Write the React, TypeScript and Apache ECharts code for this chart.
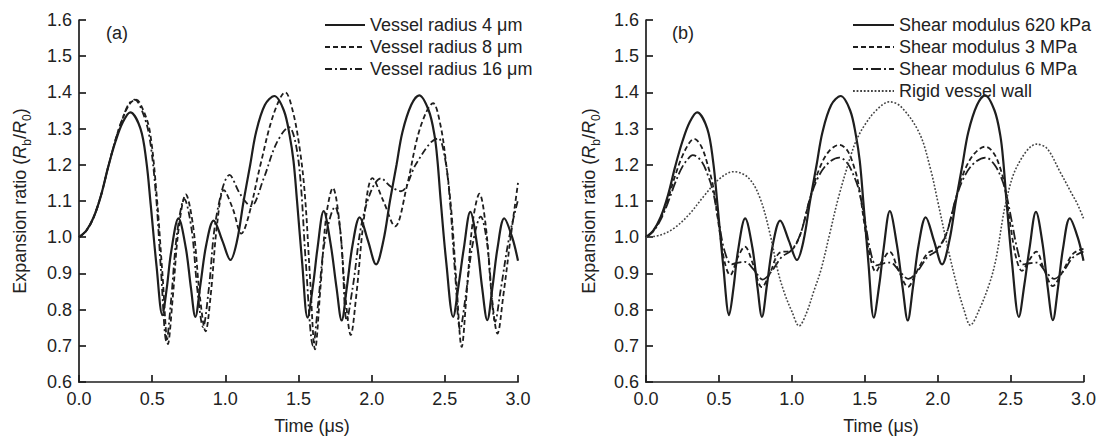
import { useEffect, useRef } from "react";
import * as echarts from "echarts";

const FONT = '"Liberation Sans", Arial, Helvetica, sans-serif';
const INK = "#1e1e1e";

// time (µs) / expansion ratio pairs
const baseCase: [number, number][] = [
  [0, 1.0], [0.05, 1.018], [0.1, 1.055], [0.15, 1.115], [0.2, 1.195], [0.25, 1.265], [0.3, 1.318],
  [0.35, 1.345], [0.42, 1.3], [0.46, 1.21], [0.49, 1.09], [0.53, 0.92], [0.57, 0.785], [0.6, 0.86],
  [0.63, 0.96], [0.68, 1.052], [0.73, 0.97], [0.765, 0.86], [0.795, 0.78], [0.83, 0.87], [0.87, 0.98],
  [0.92, 1.046], [0.98, 0.99], [1.035, 0.937], [1.08, 0.99], [1.125, 1.1], [1.17, 1.2], [1.21, 1.29],
  [1.27, 1.365], [1.335, 1.39], [1.4, 1.35], [1.44, 1.28], [1.466, 1.21], [1.49, 1.1], [1.525, 0.93],
  [1.562, 0.778], [1.6, 0.87], [1.63, 0.97], [1.672, 1.072], [1.72, 0.98], [1.76, 0.86], [1.795, 0.77],
  [1.83, 0.86], [1.87, 0.98], [1.918, 1.055], [1.975, 0.99], [2.03, 0.925], [2.08, 0.99], [2.125, 1.1],
  [2.17, 1.2], [2.21, 1.29], [2.27, 1.365], [2.325, 1.392], [2.39, 1.35], [2.43, 1.28], [2.45, 1.21],
  [2.472, 1.1], [2.51, 0.93], [2.557, 0.78], [2.595, 0.87], [2.63, 0.97], [2.674, 1.07], [2.72, 0.98],
  [2.755, 0.86], [2.79, 0.771], [2.825, 0.86], [2.86, 0.97], [2.906, 1.052], [2.96, 1.0], [3.0, 0.935],
];

const radius8: [number, number][] = [
  [0, 1.0], [0.05, 1.018], [0.1, 1.055], [0.15, 1.115], [0.2, 1.195], [0.25, 1.27], [0.3, 1.33],
  [0.35, 1.37], [0.39, 1.38], [0.44, 1.35], [0.485, 1.29], [0.53, 1.12], [0.57, 0.9], [0.608, 0.705],
  [0.64, 0.83], [0.68, 1.02], [0.73, 1.118], [0.78, 1.03], [0.825, 0.84], [0.865, 0.74], [0.9, 0.84],
  [0.945, 1.04], [0.99, 1.13], [1.05, 1.08], [1.11, 1.01], [1.16, 1.06], [1.24, 1.2], [1.33, 1.34],
  [1.41, 1.4], [1.46, 1.35], [1.51, 1.24], [1.545, 1.11], [1.58, 0.88], [1.613, 0.69], [1.65, 0.86],
  [1.69, 1.06], [1.735, 1.136], [1.78, 1.04], [1.82, 0.84], [1.857, 0.73], [1.895, 0.84], [1.95, 1.06],
  [2.005, 1.163], [2.08, 1.1], [2.16, 1.03], [2.24, 1.14], [2.33, 1.3], [2.42, 1.37], [2.47, 1.31],
  [2.51, 1.2], [2.545, 1.07], [2.58, 0.87], [2.615, 0.697], [2.65, 0.85], [2.69, 1.04], [2.737, 1.12],
  [2.78, 1.03], [2.82, 0.84], [2.86, 0.734], [2.9, 0.84], [2.95, 1.0], [3.0, 1.15],
];

const radius16: [number, number][] = [
  [0, 1.0], [0.05, 1.018], [0.1, 1.055], [0.15, 1.115], [0.2, 1.195], [0.25, 1.27], [0.3, 1.33],
  [0.34, 1.368], [0.38, 1.38], [0.43, 1.35], [0.48, 1.28], [0.525, 1.12], [0.56, 0.91], [0.598, 0.712],
  [0.63, 0.83], [0.67, 1.01], [0.72, 1.105], [0.77, 1.02], [0.81, 0.85], [0.848, 0.752], [0.885, 0.85],
  [0.94, 1.06], [1.03, 1.172], [1.1, 1.12], [1.175, 1.086], [1.26, 1.16], [1.35, 1.26], [1.435, 1.304],
  [1.48, 1.26], [1.515, 1.15], [1.55, 0.93], [1.6, 0.7], [1.635, 0.82], [1.68, 0.99], [1.75, 1.084],
  [1.79, 1.0], [1.83, 0.77], [1.87, 0.86], [1.95, 1.07], [2.065, 1.163], [2.13, 1.14], [2.2, 1.127],
  [2.3, 1.2], [2.4, 1.26], [2.455, 1.273], [2.5, 1.22], [2.535, 1.1], [2.57, 0.9], [2.605, 0.745],
  [2.64, 0.83], [2.69, 0.98], [2.745, 1.057], [2.79, 0.98], [2.845, 0.767], [2.88, 0.85], [2.94, 1.0],
  [3.0, 1.103],
];

const shear3MPa: [number, number][] = [
  [0, 1.0], [0.05, 1.018], [0.1, 1.052], [0.15, 1.105], [0.2, 1.17], [0.25, 1.225], [0.3, 1.262],
  [0.33, 1.272], [0.38, 1.25], [0.43, 1.19], [0.46, 1.14], [0.5, 1.03], [0.54, 0.93], [0.577, 0.895],
  [0.63, 0.945], [0.678, 0.974], [0.73, 0.93], [0.795, 0.862], [0.85, 0.9], [0.91, 0.955], [1.0, 0.965],
  [1.06, 1.01], [1.12, 1.1], [1.18, 1.18], [1.25, 1.235], [1.325, 1.255], [1.38, 1.24], [1.43, 1.19],
  [1.46, 1.14], [1.5, 1.03], [1.54, 0.94], [1.575, 0.905], [1.62, 0.935], [1.671, 0.96], [1.73, 0.91],
  [1.797, 0.863], [1.85, 0.9], [1.93, 0.955], [2.0, 0.97], [2.06, 1.01], [2.12, 1.1], [2.18, 1.18],
  [2.25, 1.23], [2.325, 1.25], [2.38, 1.235], [2.43, 1.19], [2.46, 1.14], [2.5, 1.03], [2.54, 0.94],
  [2.578, 0.907], [2.625, 0.935], [2.676, 0.96], [2.73, 0.91], [2.79, 0.865], [2.85, 0.9], [2.93, 0.955],
  [3.0, 0.968],
];

const shear6MPa: [number, number][] = [
  [0, 1.0], [0.05, 1.016], [0.1, 1.048], [0.15, 1.095], [0.2, 1.15], [0.25, 1.195], [0.3, 1.222],
  [0.32, 1.227], [0.38, 1.21], [0.43, 1.165], [0.46, 1.125], [0.5, 1.04], [0.54, 0.96], [0.587, 0.925],
  [0.635, 0.93], [0.678, 0.932], [0.74, 0.91], [0.8, 0.883], [0.86, 0.905], [0.93, 0.945], [1.0, 0.965],
  [1.06, 1.01], [1.12, 1.1], [1.18, 1.165], [1.25, 1.205], [1.325, 1.22], [1.38, 1.205], [1.43, 1.165],
  [1.46, 1.13], [1.5, 1.05], [1.54, 0.96], [1.58, 0.922], [1.63, 0.928], [1.675, 0.93], [1.74, 0.905],
  [1.8, 0.885], [1.86, 0.905], [1.93, 0.945], [2.0, 0.965], [2.06, 1.01], [2.12, 1.1], [2.18, 1.165],
  [2.25, 1.205], [2.33, 1.22], [2.39, 1.2], [2.44, 1.16], [2.47, 1.12], [2.51, 1.04], [2.55, 0.96],
  [2.585, 0.925], [2.63, 0.928], [2.68, 0.93], [2.74, 0.905], [2.8, 0.885], [2.86, 0.905], [2.93, 0.945],
  [3.0, 0.96],
];

const rigidWall: [number, number][] = [
  [0, 1.0], [0.1, 1.006], [0.2, 1.027], [0.3, 1.065], [0.4, 1.115], [0.5, 1.16], [0.6, 1.181],
  [0.7, 1.165], [0.78, 1.11], [0.85, 1.01], [0.905, 0.905], [0.95, 0.845], [1.0, 0.795], [1.05, 0.755],
  [1.1, 0.79], [1.15, 0.85], [1.2, 0.91], [1.26, 1.01], [1.32, 1.11], [1.4, 1.22], [1.443, 1.268],
  [1.5, 1.31], [1.58, 1.351], [1.67, 1.374], [1.75, 1.36], [1.875, 1.287], [1.95, 1.19], [2.0, 1.1],
  [2.07, 0.97], [2.128, 0.873], [2.18, 0.8], [2.224, 0.757], [2.28, 0.795], [2.356, 0.873], [2.4, 0.94],
  [2.47, 1.1], [2.55, 1.2], [2.68, 1.257], [2.75, 1.245], [2.84, 1.18], [2.92, 1.12], [2.96, 1.09],
  [3.0, 1.052],
];

const legendA = ["Vessel radius 4 \u03bcm", "Vessel radius 8 \u03bcm", "Vessel radius 16 \u03bcm"];
const legendB = ["Shear modulus 620 kPa", "Shear modulus 3 MPa", "Shear modulus 6 MPa", "Rigid vessel wall"];
const panelTags = ["(a)", "(b)"];
const xTitle = "Time (\u03bcs)";

function makeAxes(i: number) {
  const axisLine = { show: true, onZero: false, lineStyle: { color: INK, width: 1.7 } };
  const axisTick = { show: true, inside: true, length: 7, lineStyle: { color: INK, width: 1.7 } };
  const label = { color: "#222", fontSize: 18, fontFamily: FONT };
  return {
    x: {
      type: "value", gridIndex: i, min: 0, max: 3, interval: 0.5,
      axisLine, axisTick, splitLine: { show: false },
      axisLabel: { ...label, margin: 8, formatter: (v: number) => v.toFixed(1) },
    },
    y: {
      type: "value", gridIndex: i, min: 0.6, max: 1.6, interval: 0.1,
      axisLine, axisTick, splitLine: { show: false },
      axisLabel: { ...label, margin: 7, formatter: (v: number) => v.toFixed(1) },
    },
  };
}

function line(name: string, data: [number, number][], idx: number, type: any, width: number, color = INK) {
  return {
    type: "line", name, data, xAxisIndex: idx, yAxisIndex: idx,
    showSymbol: false, symbol: "none", smooth: 0.35,
    lineStyle: { color, width, type },
    itemStyle: { color },
  };
}

function yTitle(x: number) {
  return {
    type: "text", x, y: 201, rotation: Math.PI / 2,
    style: {
      text: "{n|Expansion ratio (}{i|R}{s|b}{n|/}{i|R}{s|0}{n|)}",
      align: "center", verticalAlign: "middle",
      rich: {
        n: { fontSize: 18, fontFamily: FONT, fill: "#222", lineHeight: 26 },
        i: { fontSize: 18, fontFamily: FONT, fontStyle: "italic", fill: "#222", lineHeight: 26 },
        s: { fontSize: 12, fontFamily: FONT, fill: "#222", lineHeight: 26, verticalAlign: "bottom" },
      },
    },
  };
}

function tag(text: string, x: number, y: number, size: number) {
  return {
    type: "text", x, y,
    style: { text, fill: "#222", fontSize: size, fontFamily: FONT, align: "center", verticalAlign: "middle" },
  };
}

export default function App() {
  const ref = useRef<HTMLDivElement>(null);
  useEffect(() => {
    const chart = echarts.init(ref.current!, null, { renderer: "svg" });
    const a = makeAxes(0);
    const b = makeAxes(1);
    const legendCommon = {
      orient: "vertical", itemWidth: 40, itemHeight: 18, itemGap: 4, selectedMode: false,
      textStyle: { fontSize: 18, fontFamily: FONT, color: "#222", lineHeight: 18 },
      itemStyle: { color: "rgba(0,0,0,0)", borderWidth: 0, opacity: 0 },
    };
    chart.setOption({
      animation: false,
      backgroundColor: "#fff",
      grid: [
        { left: 79, top: 20, width: 439, height: 362 },
        { left: 646, top: 20, width: 438, height: 362 },
      ],
      xAxis: [a.x, b.x],
      yAxis: [a.y, b.y],
      legend: [
        { ...legendCommon, data: legendA, left: 319, top: 11 },
        { ...legendCommon, data: legendB, left: 847, top: 11, itemWidth: 41 },
      ],
      series: [
        line(legendA[0], baseCase, 0, "solid", 2.2),
        line(legendA[1], radius8, 0, [5, 3], 1.8),
        line(legendA[2], radius16, 0, [7, 3, 2, 3], 1.8),
        line(legendB[0], baseCase, 1, "solid", 2.2),
        line(legendB[1], shear3MPa, 1, [5, 3], 1.8),
        line(legendB[2], shear6MPa, 1, [10, 3, 2, 3], 1.8),
        line(legendB[3], rigidWall, 1, [1.8, 1.8], 1.6, "#444"),
      ],
      graphic: [
        tag(panelTags[0], 117, 33, 18),
        tag(panelTags[1], 683, 33, 18),
        tag(xTitle, 312, 426, 18),
        tag(xTitle, 881, 426, 18),
        yTitle(20),
        yTitle(589),
      ],
    });
    return () => chart.dispose();
  }, []);
  return (
    <div
      ref={ref}
      style={{ position: "fixed", left: 0, top: 0, width: 1099, height: 436, background: "#fff" }}
    />
  );
}
